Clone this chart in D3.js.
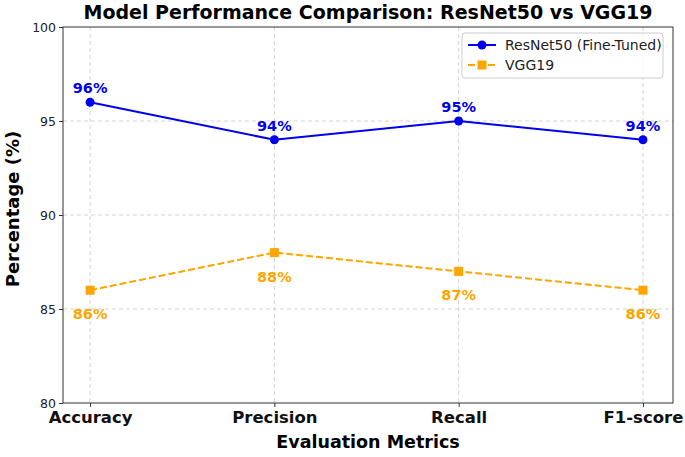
<!DOCTYPE html>
<html>
<head>
<meta charset="utf-8">
<script src="https://cdn.jsdelivr.net/npm/d3@7"></script>
<style>
body{margin:0;background:#fff}
text{font-family:"DejaVu Sans",sans-serif}
</style>
</head>
<body>
<script>
const metrics = ["Accuracy", "Precision", "Recall", "F1-score"]
const resnet = [96, 94, 95, 94]
const vgg = [86, 88, 87, 86]
const yTicks = [80, 85, 90, 95, 100]

const width = 685, height = 457
const mLeft = 63, mRight = 673, mTop = 27, mBottom = 403

const svg = d3.select("body").append("svg")
    .attr("width", width).attr("height", height)

const x = d3.scaleLinear().domain([-0.147, 3.163]).range([mLeft, mRight])
const y = d3.scaleLinear().domain([80, 100]).range([mBottom, mTop])

// grid
svg.selectAll(".gx").data(metrics).join("line")
    .attr("x1", (d, i) => x(i)).attr("x2", (d, i) => x(i))
    .attr("y1", mTop).attr("y2", mBottom)
    .attr("stroke", "#c8c8c8").attr("stroke-dasharray", "4,3").attr("stroke-width", 0.8)
svg.selectAll(".gy").data(yTicks.slice(1, 4)).join("line")
    .attr("x1", mLeft).attr("x2", mRight)
    .attr("y1", d => y(d)).attr("y2", d => y(d))
    .attr("stroke", "#c8c8c8").attr("stroke-dasharray", "4,3").attr("stroke-width", 0.8)

// axes
const yAxis = svg.append("g").attr("transform", `translate(${mLeft},0)`)
    .call(d3.axisLeft(y).tickValues(yTicks).tickSize(4).tickPadding(3))
yAxis.select(".domain").remove()
yAxis.selectAll("text").attr("font-size", 12.5).attr("fill", "#222")
yAxis.selectAll("line").attr("stroke", "#333")

const xAxis = svg.append("g").attr("transform", `translate(0,${mBottom})`)
    .call(d3.axisBottom(x).tickValues(d3.range(metrics.length)).tickFormat(i => metrics[i]).tickSize(4).tickPadding(4))
xAxis.select(".domain").remove()
xAxis.selectAll("text").attr("font-size", 16.5).attr("font-weight", "bold").attr("fill", "#111")
xAxis.selectAll("line").attr("stroke", "#333")

svg.append("rect").attr("x", mLeft).attr("y", mTop)
    .attr("width", mRight - mLeft).attr("height", mBottom - mTop)
    .attr("fill", "none").attr("stroke", "#333").attr("stroke-width", 1)

// lines
const line = d3.line().x((d, i) => x(i)).y(d => y(d))
svg.append("path").datum(resnet).attr("d", line)
    .attr("fill", "none").attr("stroke", "#0000ee").attr("stroke-width", 2)
svg.append("path").datum(vgg).attr("d", line)
    .attr("fill", "none").attr("stroke", "orange").attr("stroke-width", 2).attr("stroke-dasharray", "7,3")

svg.selectAll(".pr").data(resnet).join("circle")
    .attr("cx", (d, i) => x(i)).attr("cy", d => y(d)).attr("r", 4.5).attr("fill", "#0000ee")
svg.selectAll(".pv").data(vgg).join("rect")
    .attr("x", (d, i) => x(i) - 4.5).attr("y", d => y(d) - 4.5)
    .attr("width", 9).attr("height", 9).attr("fill", "orange")

svg.selectAll(".lr").data(resnet).join("text")
    .attr("x", (d, i) => x(i)).attr("y", d => y(d) - 9)
    .attr("text-anchor", "middle").attr("font-size", 14.5).attr("font-weight", "bold")
    .attr("fill", "#0000ee").text(d => d + "%")
svg.selectAll(".lv").data(vgg).join("text")
    .attr("x", (d, i) => x(i)).attr("y", d => y(d) + 29)
    .attr("text-anchor", "middle").attr("font-size", 14.5).attr("font-weight", "bold")
    .attr("fill", "orange").text(d => d + "%")

// titles
svg.append("text").attr("x", (mLeft + mRight) / 2).attr("y", 19)
    .attr("text-anchor", "middle").attr("font-size", 19).attr("font-weight", "bold")
    .text("Model Performance Comparison: ResNet50 vs VGG19")
svg.append("text").attr("x", (mLeft + mRight) / 2).attr("y", 448)
    .attr("text-anchor", "middle").attr("font-size", 17.5).attr("font-weight", "bold")
    .text("Evaluation Metrics")
svg.append("text").attr("transform", `translate(19,${(mTop + mBottom) / 2 - 6}) rotate(-90)`)
    .attr("text-anchor", "middle").attr("font-size", 18).attr("font-weight", "bold")
    .text("Percentage (%)")

// legend
const lg = svg.append("g").attr("transform", "translate(462,33)")
lg.append("rect").attr("width", 201).attr("height", 45).attr("rx", 3)
    .attr("fill", "#fff").attr("fill-opacity", 0.8).attr("stroke", "#ccc")
const entries = [
    {name: "ResNet50 (Fine-Tuned)", color: "#0000ee", dash: null, shape: "circle"},
    {name: "VGG19", color: "orange", dash: "7,3", shape: "square"}
]
entries.forEach((e, i) => {
    const g = lg.append("g").attr("transform", `translate(0,${12 + i * 20})`)
    g.append("line").attr("x1", 6).attr("x2", 34).attr("stroke", e.color)
        .attr("stroke-width", 2).attr("stroke-dasharray", e.dash)
    if (e.shape === "circle") g.append("circle").attr("cx", 20).attr("r", 4.5).attr("fill", e.color)
    else g.append("rect").attr("x", 15.5).attr("y", -4.5).attr("width", 9).attr("height", 9).attr("fill", e.color)
    g.append("text").attr("x", 43).attr("y", 5).attr("font-size", 14).attr("fill", "#222").text(e.name)
})
</script>
</body>
</html>
